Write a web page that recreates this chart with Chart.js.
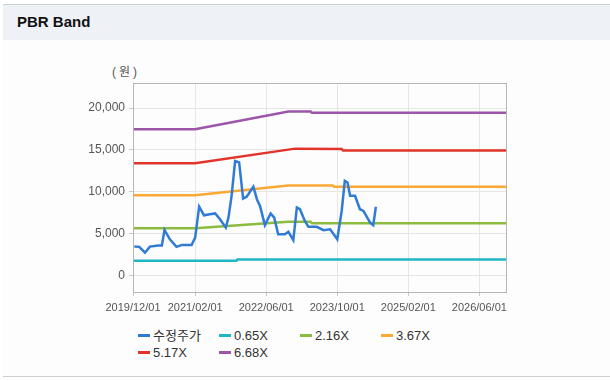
<!DOCTYPE html>
<html>
<head>
<meta charset="utf-8">
<script src="https://cdn.jsdelivr.net/npm/chart.js@4"></script>
<style>
  body { margin: 0; width: 610px; height: 381px; background: #fff; position: relative; overflow: hidden;
         font-family: "Liberation Sans", "Noto Sans CJK KR", sans-serif; }
  .head { position: absolute; left: 3px; right: 0; top: 4px; height: 35px; background: #eef2f7; border-top: 1px solid #cfcfcf; }
  .head h3 { margin: 0; position: absolute; left: 14px; top: 8px; font-size: 15px; font-weight: bold; color: #111; }
  .body { position: absolute; left: 3px; right: 0; top: 40px; height: 336px; background: #fdfdfd; border-bottom: 1px solid #cfcfcf; }
  .unit { position: absolute; left: 112px; top: 62px; font-size: 12px; color: #555; letter-spacing: 3px; }
  .wrap { position: absolute; left: 0; top: 40px; width: 610px; height: 280px; }
  #legend { position: absolute; left: 138px; top: 327px; width: 340px; font-size: 13px; color: #333; }
  #legend .item { position: absolute; white-space: nowrap; line-height: 17px; }
  #legend .mk { display: inline-block; width: 12px; height: 3px; vertical-align: middle; margin-right: 3px; position: relative; top: -1px; }
</style>
</head>
<body>
<div class="head"><h3>PBR Band</h3></div>
<div class="body"></div>
<div class="unit">(원)</div>
<div class="wrap"><canvas id="pbrChart"></canvas></div>
<div id="legend"></div>
<script>
// 수정주가 (adjusted price)
const priceDates = ['2019-12-10','2020-01-13','2020-02-22','2020-03-25','2020-05-22','2020-06-16','2020-07-04','2020-08-10',
  '2020-09-25','2020-11-01','2021-01-07','2021-02-01','2021-02-28','2021-04-01','2021-05-10','2021-06-16','2021-07-19',
  '2021-08-28','2021-09-16','2021-10-07','2021-11-01','2021-11-28','2021-12-25','2022-01-19','2022-03-04','2022-03-28',
  '2022-04-19','2022-05-22','2022-07-01','2022-07-25','2022-08-22','2022-10-07','2022-11-01','2022-12-04','2022-12-28',
  '2023-01-19','2023-02-22','2023-03-16','2023-05-13','2023-06-28','2023-08-13','2023-10-01','2023-11-01','2023-11-22',
  '2023-12-10','2023-12-28','2024-02-01','2024-03-04','2024-03-28','2024-05-13','2024-06-04','2024-06-22'];
const priceValues = [3430, 3400, 2700, 3430, 3560, 3560, 5420, 4300,
  3400, 3630, 3630, 4500, 8220, 7180, 7300, 7400, 6700,
  5700, 6900, 9500, 13670, 13500, 9170, 9400, 10600, 9100,
  8300, 6000, 7400, 6900, 4900, 4900, 5200, 4200, 8100,
  7900, 6500, 5800, 5800, 5400, 5500, 4300, 7700, 11300,
  11100, 9500, 9500, 7900, 7700, 6300, 6000, 8200];

// PBR band lines (null = no point at that date)
const bandDates = ['2019-12-01','2021-02-01','2021-11-10','2021-11-16','2022-11-01','2022-12-16','2023-04-01',
  '2023-04-10','2023-09-01','2023-09-10','2023-11-01','2023-11-10','2026-12-01'];
const band065 = [1750, null, 1750, 1900, null, null, null, null, null, null, null, null, 1900];
const band216 = [5620, 5620, null, null, 6400, null, 6400, 6220, null, null, null, null, 6220];
const band367 = [9560, 9560, null, null, 10750, null, null, null, 10750, 10580, null, null, 10580];
const band517 = [13400, 13400, null, null, null, 15150, null, null, null, null, 15100, 14920, 14920];
const band668 = [17460, 17460, null, null, 19580, null, 19580, 19430, null, null, null, null, 19430];

const seriesNames = ['수정주가', '0.65X', '2.16X', '3.67X', '5.17X', '6.68X'];
const seriesColors = ['#2f7bd6', '#1fb6c6', '#8cbc3f', '#fba835', '#e2342b', '#9c55a8'];

const xTickDates = ['2019-12-01', '2021-02-01', '2022-06-01', '2023-10-01', '2025-02-01', '2026-06-01'];
const xRange = ['2019-12-01', '2026-12-01'];
const yTicks = [0, 5000, 10000, 15000, 20000];
const yRange = [-2000, 23000];

const toMonth = s => {
  const [y, m, d] = s.split('-').map(Number);
  return (y - 2019) * 12 + (m - 12) + (d - 1) / 30;
};
const toPoints = (dates, vals) => dates.map((d, i) => ({ x: toMonth(d), y: vals[i] }));

const bands = [band065, band216, band367, band517, band668];
const datasets = [{ label: seriesNames[0], data: toPoints(priceDates, priceValues) }]
  .concat(bands.map((b, i) => ({ label: seriesNames[i + 1], data: toPoints(bandDates, b) })));
datasets.forEach((ds, i) => {
  ds.borderColor = seriesColors[i];
  ds.backgroundColor = seriesColors[i];
  ds.borderWidth = 2.5;
  ds.pointRadius = 0;
  ds.spanGaps = true;
  ds.tension = 0;
});

const frameBox = {
  id: 'frameBox',
  afterDraw(chart) {
    const { ctx, chartArea: a } = chart;
    ctx.save();
    ctx.strokeStyle = '#b5b5b5';
    ctx.lineWidth = 1;
    ctx.strokeRect(Math.round(a.left) + 0.5, Math.round(a.top) + 0.5, Math.round(a.right - a.left), Math.round(a.bottom - a.top));
    ctx.restore();
  }
};

const chart = new Chart(document.getElementById('pbrChart'), {
  type: 'line',
  data: { datasets },
  options: {
    responsive: true, maintainAspectRatio: false, animation: false,
    layout: { padding: { top: 43, right: 104, left: 0, bottom: 0 } },
    plugins: { legend: { display: false }, tooltip: { enabled: false } },
    scales: {
      x: {
        type: 'linear', min: toMonth(xRange[0]), max: toMonth(xRange[1]),
        afterBuildTicks: s => { s.ticks = xTickDates.map(d => ({ value: toMonth(d) })); },
        afterFit: s => { s.height = 28; },
        grid: { color: '#e6e6e6', tickColor: '#c8c8c8', tickLength: 4 },
        border: { color: '#b5b5b5' },
        ticks: {
          autoSkip: false, maxRotation: 0, padding: 5, color: '#555',
          font: { size: 11, family: 'Liberation Sans' },
          callback: (v, i) => xTickDates[i] ? xTickDates[i].replace(/-/g, '/') : ''
        }
      },
      y: {
        min: yRange[0], max: yRange[1],
        afterBuildTicks: s => { s.ticks = yTicks.map(v => ({ value: v })); },
        afterFit: s => { s.width = 133; },
        grid: { color: '#e6e6e6', tickColor: '#c8c8c8', tickLength: 4 },
        border: { color: '#b5b5b5' },
        ticks: {
          padding: 4, color: '#555',
          font: { size: 12, family: 'Liberation Sans' },
          callback: v => v.toLocaleString('en-US')
        }
      }
    }
  },
  plugins: [frameBox]
});

// legend in fixed columns, like the original
const legend = document.getElementById('legend');
chart.data.datasets.forEach((ds, i) => {
  const el = document.createElement('div');
  el.className = 'item';
  el.style.left = (i % 4) * 81 + 'px';
  el.style.top = Math.floor(i / 4) * 17 + 'px';
  el.innerHTML = `<span class="mk" style="background:${ds.borderColor}"></span>${ds.label}`;
  legend.appendChild(el);
});
</script>
</body>
</html>
